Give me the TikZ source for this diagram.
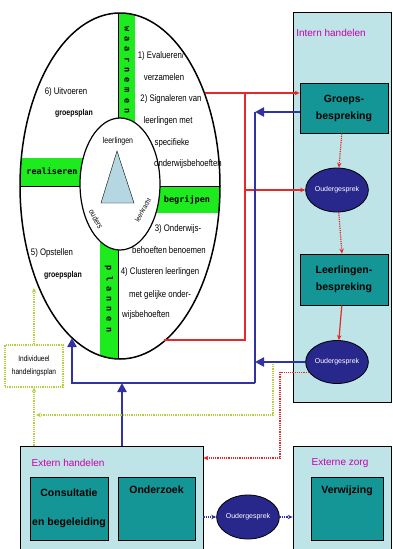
\documentclass[tikz,border=0pt]{standalone}
\usepackage{fontspec}
\setmainfont{Liberation Sans}[FakeStretch=0.82]
\newfontfamily\comicfont{Liberation Sans}
\newfontfamily\barfont{DejaVu Sans Mono}
\newfontfamily\barwidefont{DejaVu Sans Mono}[LetterSpace=60]
\usepackage{tikz}
\usetikzlibrary{shapes.geometric,arrows.meta,positioning}

\definecolor{barGreen}{RGB}{30,235,30}
\definecolor{panelBlue}{RGB}{190,228,232}
\definecolor{boxTeal}{RGB}{20,150,150}
\definecolor{talkBlue}{RGB}{40,40,140}
\definecolor{lineBlue}{RGB}{50,50,165}
\definecolor{lineRed}{RGB}{230,40,40}
\definecolor{titleMag}{RGB}{200,0,170}
\definecolor{dotGreen}{RGB}{185,205,60}
\definecolor{triBlue}{RGB}{180,215,225}

\tikzset{
	small/.style={font=\fontsize{9.5}{11}\selectfont, inner sep=1pt},
	smallbold/.style={font=\fontsize{8.5}{10}\selectfont\bfseries, inner sep=1pt},
	corelabel/.style={font=\fontsize{8.5}{10}\selectfont, inner sep=0pt},
	barlabel/.style={font=\barfont\bfseries\fontsize{8.5}{10}\selectfont, inner sep=0pt},
	barwide/.style={font=\barwidefont\bfseries\fontsize{8.5}{10}\selectfont, inner sep=0pt},
	panel/.style={draw=black, fill=panelBlue, thick, inner sep=0pt},
	actbox/.style={draw=black, fill=boxTeal, thick, inner sep=0pt},
	boxtext/.style={font=\comicfont\fontsize{10.5}{12}\selectfont\bfseries, align=center, inner sep=1pt},
	paneltitle/.style={font=\comicfont\fontsize{10}{12}\selectfont, text=titleMag, inner sep=0pt},
	talk/.style={ellipse, draw=black, thick, fill=talkBlue, text=white, minimum width=59pt, minimum height=44pt, inner sep=0pt, font=\comicfont\fontsize{7}{8}\selectfont},
	redline/.style={draw=lineRed, line width=1.2pt},
	reddot/.style={draw=lineRed, densely dotted, line width=1.2pt},
	blueline/.style={draw=lineBlue, line width=2.5pt},
	bluedot/.style={draw=lineBlue, densely dotted, line width=1.2pt},
	greendot/.style={draw=dotGreen, densely dotted, line width=1.2pt},
	>={Stealth[length=5pt,width=4.5pt]},
}

\begin{document}
\begin{tikzpicture}[x=1pt, y=-1pt]
	\useasboundingbox (0,0) rectangle (393,549);
	\clip (0,0) rectangle (393,549);
	
	% panels
	\node[panel, minimum width=98, minimum height=390] (intern) at (342,207) {};
	\node[panel, minimum width=183, minimum height=110] (extern) at (111.5,501) {};
	\node[panel, minimum width=98, minimum height=110] (zorg) at (342,501) {};
	\node[paneltitle] (internT) at (331,33) {Intern handelen};
	\node[paneltitle] (externT) at (68,463) {Extern handelen};
	\node[paneltitle] (zorgT) at (340,463) {Externe zorg};
	
	% boxes
	\node[actbox, boxtext, minimum width=88, minimum height=50] (groeps) at (344,108) {Groeps-\\[5pt]bespreking};
	\node[actbox, boxtext, minimum width=88, minimum height=51] (leerl) at (344,279.5) {Leerlingen-\\[5pt]bespreking};
	\node[actbox, boxtext, minimum width=78, minimum height=63] (consult) at (69,508.5) {Consultatie\\[17pt]en begeleiding};
	\node[actbox, minimum width=77, minimum height=63] (onderz) at (156.5,508.5) {};
	\node[boxtext, below=8pt of onderz.north] (onderzT) {Onderzoek};
	\node[actbox, minimum width=72, minimum height=63] (verw) at (347,508.5) {};
	\node[boxtext, below=8pt of verw.north] (verwT) {Verwijzing};
	
	\node[talk] (talkA) at (337,190) {Oudergesprek};
	\node[talk, minimum height=43] (talkB) at (337,362) {Oudergesprek};
	\node[talk] (talkC) at (248,517) {Oudergesprek};
	
	\node[greendot, fill=white, minimum width=58, minimum height=42, align=center, inner sep=1pt, font=\fontsize{8}{13}\selectfont] (plan) at (34,366) {Individueel\\handelingsplan};
	
	% cycle
	\begin{scope}
		\clip (120,186) ellipse [x radius=100pt, y radius=173pt];
		\fill[barGreen] (118,0) rectangle (135,130);
		\fill[barGreen] (0,158) rectangle (85,186);
		\fill[barGreen] (155,186) rectangle (240,213);
		\fill[barGreen] (100,240) rectangle (118,400);
		\draw[thick] (118,0) -- (118,400);
		\draw[thick] (0,186) -- (240,186);
	\end{scope}
	\node[ellipse, draw, line width=1.5pt, minimum width=200, minimum height=346, inner sep=0pt] (cycle) at (120,186) {};
	\node[ellipse, draw, line width=1.2pt, fill=white, minimum width=80, minimum height=132, inner sep=0pt] (core) at (120,184) {};
	\draw[fill=triBlue] (117,151) -- (134,203) -- (101,203) -- cycle;
	\node[corelabel] (kids) at (118,141) {leerlingen};
	\node[corelabel, font=\fontsize{8}{9}\selectfont, rotate=-60] (parents) at (96,219) {ouders};
	\node[corelabel, font=\fontsize{7}{8}\selectfont, rotate=60] (teacher) at (143,210) {leerkracht};
	
	\node[barwide, rotate=-90] (observe) at (127,70) {waarnemen};
	\node[barlabel] (realise) at (52,171) {realiseren};
	\node[barlabel] (grasp) at (187,200) {begrijpen};
	\node[barwide, rotate=-90] (plans) at (109,299) {plannen};
	
	% steps
	\node[small] at (161,56) {1) Evalueren/};
	\node[small] at (164,77) {verzamelen};
	\node[small] at (171,99) {2) Signaleren van};
	\node[small] at (168,121) {leerlingen met};
	\node[small] at (172,143) {specifieke};
	\node[small] at (188,164) {onderwijsbehoeften};
	\node[small] at (178,229) {3) Onderwijs-};
	\node[small] at (169,250) {behoeften benoemen};
	\node[small] at (160,272) {4) Clusteren leerlingen};
	\node[small] at (160,295) {met gelijke onder-};
	\node[small] at (146,315) {wijsbehoeften};
	\node[small] at (52,253) {5) Opstellen};
	\node[smallbold] at (63,275) {groepsplan};
	\node[small] at (66,92) {6) Uitvoeren};
	\node[smallbold] at (74,113) {groepsplan};
	
	% red lines
	\coordinate (rTop) at (204.5,93);
	\coordinate (rSplit) at (245,93);
	\coordinate (rBot) at (164,340);
	\draw[redline,->] (rTop) -- (rTop -| groeps.west);
	\draw[redline] (rBot) -| (rSplit);
	\draw[redline,->] (rSplit |- talkA) -- (talkA);
	\draw[reddot,->] (groeps) -- (talkA);
	\draw[reddot,->] (talkA) -- (leerl);
	\draw[redline,->] (leerl) -- (talkB);
	\coordinate (rdTurn) at (280,458);
	\draw[reddot,->] (talkB.200) -| (rdTurn) -- (rdTurn -| extern.east);
	
	% blue lines
	\coordinate (bTop) at (255,112);
	\coordinate (bCorner) at (255,383);
	\coordinate (bEnd) at (72,338);
	\coordinate (bJoin) at (122,383);
	\draw[blueline] (bTop) -- (bCorner);
	\draw[blueline,-{Triangle[length=9pt,width=9pt]}] (bTop -| groeps.west) -- (bTop);
	\draw[blueline,-{Triangle[length=9pt,width=9pt]}] (talkB) -- (talkB -| bTop);
	\draw[blueline,-{Triangle[length=9pt,width=9pt]}] (bCorner) -| (bEnd);
	\draw[blueline,-{Triangle[length=9pt,width=9pt]}] (extern.north -| bJoin) -- (bJoin);
	\draw[bluedot,->] (talkC -| extern.east) -- (talkC);
	\draw[bluedot,->] (talkC) -- (talkC -| zorg.west);
	
	% green dotted lines
	\coordinate (gTop) at (34,288);
	\coordinate (gStart) at (273,364);
	\coordinate (gEnd) at (36,415);
	\draw[greendot,->] (plan) -- (gTop);
	\draw[greendot,->] (extern.north -| plan) -- (plan);
	\draw[greendot,->] (gStart) |- (gEnd);
\end{tikzpicture}
\end{document}
